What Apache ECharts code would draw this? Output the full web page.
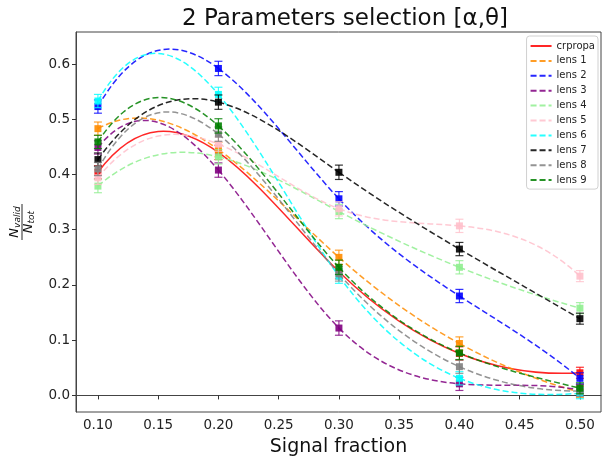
<!DOCTYPE html>
<html>
<head>
<meta charset="utf-8">
<script src="https://cdn.jsdelivr.net/npm/echarts@6/dist/echarts.min.js"></script>
<style>
  html, body { margin: 0; padding: 0; background: #fff; }
  #chart { width: 602px; height: 456px; }
</style>
</head>
<body>
<div id="chart"></div>
<script>
// data
const signalFraction = [0.1, 0.2, 0.3, 0.4, 0.5];
const xTicks = [0.1, 0.15, 0.2, 0.25, 0.3, 0.35, 0.4, 0.45, 0.5];
const yTicks = [0.0, 0.1, 0.2, 0.3, 0.4, 0.5, 0.6];
const seriesNames = ['crpropa', 'lens 1', 'lens 2', 'lens 3', 'lens 4', 'lens 5', 'lens 6', 'lens 7', 'lens 8', 'lens 9'];
const crpropa = [0.404, 0.440, 0.224, 0.076, 0.041];
const lens1 = [0.483, 0.445, 0.250, 0.094, 0.006];
const lens2 = [0.523, 0.592, 0.356, 0.180, 0.031];
const lens3 = [0.449, 0.408, 0.122, 0.021, 0.010];
const lens4 = [0.379, 0.432, 0.333, 0.232, 0.158];
const lens5 = [0.394, 0.455, 0.338, 0.307, 0.216];
const lens6 = [0.533, 0.545, 0.216, 0.031, 0.004];
const lens7 = [0.427, 0.531, 0.404, 0.265, 0.139];
const lens8 = [0.410, 0.473, 0.220, 0.052, 0.008];
const lens9 = [0.459, 0.488, 0.232, 0.077, 0.013];
const errBar = [0.012, 0.013, 0.013, 0.012, 0.010];

const allValues = [crpropa, lens1, lens2, lens3, lens4, lens5, lens6, lens7, lens8, lens9];
const colors = ['#ff0000', '#ff8c00', '#0000ff', '#800080', '#90ee90', '#ffc0cb', '#00ffff', '#000000', '#808080', '#008000'];
const dashed = [6, 3];

// slopes of a not-a-knot cubic spline through the points (same curve type as the original)
function splineSlopes(xs, ys) {
  const n = xs.length, h = xs[1] - xs[0];
  const A = [], b = [];
  for (let i = 0; i < n; i++) { A.push(new Array(n).fill(0)); b.push(0); }
  A[0][0] = 1; A[0][1] = -2; A[0][2] = 1;
  for (let i = 1; i < n - 1; i++) {
    A[i][i - 1] = h; A[i][i] = 4 * h; A[i][i + 1] = h;
    b[i] = 6 / h * (ys[i + 1] - 2 * ys[i] + ys[i - 1]);
  }
  A[n - 1][n - 3] = 1; A[n - 1][n - 2] = -2; A[n - 1][n - 1] = 1;
  // gaussian elimination with pivoting
  for (let c = 0; c < n; c++) {
    let p = c;
    for (let r = c + 1; r < n; r++) if (Math.abs(A[r][c]) > Math.abs(A[p][c])) p = r;
    [A[c], A[p]] = [A[p], A[c]]; [b[c], b[p]] = [b[p], b[c]];
    for (let r = c + 1; r < n; r++) {
      const f = A[r][c] / A[c][c];
      for (let k = c; k < n; k++) A[r][k] -= f * A[c][k];
      b[r] -= f * b[c];
    }
  }
  const M = new Array(n).fill(0);
  for (let r = n - 1; r >= 0; r--) {
    let s = b[r];
    for (let k = r + 1; k < n; k++) s -= A[r][k] * M[k];
    M[r] = s / A[r][r];
  }
  const s = [];
  for (let i = 0; i < n - 1; i++) s.push((ys[i + 1] - ys[i]) / h - h * (2 * M[i] + M[i + 1]) / 6);
  s.push((ys[n - 1] - ys[n - 2]) / h + h * (M[n - 2] + 2 * M[n - 1]) / 6);
  return s;
}

const chart = echarts.init(document.getElementById('chart'));

const series = [];
// legend-only entries (line style shown in legend)
allValues.forEach((vals, i) => {
  series.push({
    name: seriesNames[i],
    type: 'line',
    symbol: 'none',
    data: [],
    lineStyle: { color: colors[i], width: 1.5, opacity: 0.85, type: i === 0 ? 'solid' : dashed },
    itemStyle: { color: colors[i] }
  });
});

// curve, error bars and square markers
allValues.forEach((vals, i) => {
  const col = colors[i];
  const slopes = splineSlopes(signalFraction, vals);
  const h = signalFraction[1] - signalFraction[0];
  series.push({
    name: 'c' + i,
    type: 'custom',
    encode: { x: 0, y: 1 },
    data: signalFraction.map((x, j) => [x, vals[j], errBar[j]]),
    z: 2 + i * 0.01,
    renderItem: (params, api) => {
      const j = params.dataIndex;
      const x = api.value(0), y = api.value(1), e = api.value(2);
      const c = api.coord([x, y]);
      const top = api.coord([x, y + e]);
      const bot = api.coord([x, y - e]);
      const st = { stroke: col, lineWidth: 1.2, opacity: 0.8 };
      const children = [];
      if (j < vals.length - 1) {
        const x2 = signalFraction[j + 1], y2 = vals[j + 1];
        const p2 = api.coord([x2, y2]);
        const cp1 = api.coord([x + h / 3, y + h / 3 * slopes[j]]);
        const cp2 = api.coord([x2 - h / 3, y2 - h / 3 * slopes[j + 1]]);
        children.push({
          type: 'bezierCurve',
          shape: { x1: c[0], y1: c[1], x2: p2[0], y2: p2[1], cpx1: cp1[0], cpy1: cp1[1], cpx2: cp2[0], cpy2: cp2[1] },
          style: { stroke: col, fill: null, lineWidth: 1.5, opacity: 0.85, lineDash: i === 0 ? null : dashed },
          z2: 0
        });
      }
      children.push(
        { type: 'line', shape: { x1: c[0], y1: top[1], x2: c[0], y2: bot[1] }, style: st, z2: 1 },
        { type: 'line', shape: { x1: c[0] - 4, y1: top[1], x2: c[0] + 4, y2: top[1] }, style: st, z2: 1 },
        { type: 'line', shape: { x1: c[0] - 4, y1: bot[1], x2: c[0] + 4, y2: bot[1] }, style: st, z2: 1 },
        { type: 'rect', shape: { x: c[0] - 3.5, y: c[1] - 3.5, width: 7, height: 7 }, style: { fill: col, opacity: 0.9 }, z2: 2 }
      );
      return { type: 'group', children: children };
    }
  });
});

const fracRich = {
  n: { fontSize: 13, fontFamily: 'DejaVu Sans', fontStyle: 'italic', fill: '#111' },
  s: { fontSize: 9, fontFamily: 'DejaVu Sans', fontStyle: 'italic', fill: '#111', padding: [5, 0, 0, 0] }
};

const option = {
  animation: false,
  textStyle: { fontFamily: 'DejaVu Sans' },
  title: {
    text: '2 Parameters selection [α,θ]',
    left: 340,
    textAlign: 'center',
    top: 3,
    textStyle: { fontSize: 23, fontWeight: 'normal', color: '#111', fontFamily: 'DejaVu Sans' }
  },
  legend: {
    data: seriesNames,
    orient: 'vertical',
    right: 4,
    top: 36,
    itemWidth: 21,
    itemHeight: 8,
    itemGap: 4.9,
    padding: [5, 3, 4, 3],
    borderColor: '#d0d0d0',
    borderWidth: 1,
    borderRadius: 3,
    backgroundColor: '#fff',
    itemStyle: { opacity: 0 },
    textStyle: { fontSize: 10, color: '#222', fontFamily: 'DejaVu Sans' },
    z: 10
  },
  grid: {
    left: 76, right: 1, top: 32, bottom: 44,
    outerBoundsMode: 'none',
    show: true, borderColor: '#444', borderWidth: 1
  },
  xAxis: {
    type: 'value',
    min: 0.0818,
    max: 0.5175,
    name: 'Signal fraction',
    nameLocation: 'middle',
    nameGap: 26,
    nameTextStyle: { fontSize: 19, color: '#111', fontFamily: 'DejaVu Sans' },
    splitLine: { show: false },
    axisLine: { lineStyle: { color: '#444' } },
    axisTick: { show: true, customValues: xTicks, length: 4, lineStyle: { color: '#333' } },
    axisLabel: {
      customValues: xTicks,
      fontSize: 13.5, color: '#222', margin: 6,
      formatter: v => v.toFixed(2)
    }
  },
  yAxis: {
    type: 'value',
    min: -0.03,
    max: 0.658,
    splitLine: { show: false },
    axisLine: { show: true, lineStyle: { color: '#444' } },
    axisTick: { show: true, customValues: yTicks, length: 4, lineStyle: { color: '#333' } },
    axisLabel: {
      customValues: yTicks,
      fontSize: 13.5, color: '#222', margin: 6,
      formatter: v => v.toFixed(1)
    }
  },
  graphic: [{
    type: 'group',
    x: 22,
    y: 222,
    rotation: Math.PI / 2,
    children: [
      {
        type: 'text',
        x: 0, y: -7,
        style: { text: '{n|N}{s|valid}', align: 'center', verticalAlign: 'middle', rich: fracRich }
      },
      { type: 'line', shape: { x1: -18, y1: 0, x2: 18, y2: 0 }, style: { stroke: '#111', lineWidth: 0.9 } },
      {
        type: 'text',
        x: 0, y: 7,
        style: { text: '{n|N}{s|tot}', align: 'center', verticalAlign: 'middle', rich: fracRich }
      }
    ]
  }],
  series: series
};

chart.setOption(option);
</script>
</body>
</html>
